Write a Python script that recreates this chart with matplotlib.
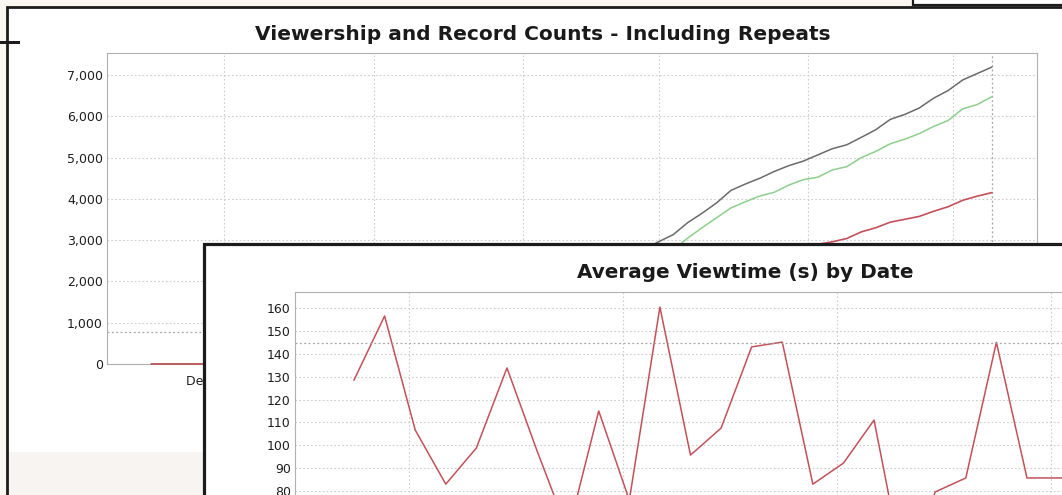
import matplotlib
matplotlib.use("Agg")
import matplotlib.pyplot as plt
import matplotlib.dates as mdates
from matplotlib.patches import Rectangle
from matplotlib.ticker import FuncFormatter
import pandas as pd

# ---------------- data: window 1 (cumulative counts) ----------------
count_dates = ["2010-11-16", "2010-12-15", "2011-01-01", "2011-01-15", "2011-02-01",
               "2011-02-15", "2011-03-01", "2011-03-04", "2011-03-07", "2011-03-10",
               "2011-03-13", "2011-03-16", "2011-03-19", "2011-03-22", "2011-03-25",
               "2011-03-28", "2011-03-31", "2011-04-03", "2011-04-06", "2011-04-09",
               "2011-04-12", "2011-04-15", "2011-04-18", "2011-04-21", "2011-04-24",
               "2011-04-27", "2011-04-30", "2011-05-03", "2011-05-06", "2011-05-09"]
total_views = [0, 0, 80, 600, 1350, 2100, 2960, 3130, 3420, 3650, 3900, 4205, 4360, 4500,
               4665, 4805, 4915, 5065, 5215, 5310, 5490, 5675, 5925, 6045, 6200, 6440,
               6625, 6880, 7035, 7190]
green_counts = [0, 0, 60, 500, 1150, 1800, 2480, 2760, 3045, 3300, 3540, 3780, 3930, 4070,
                4160, 4335, 4465, 4525, 4700, 4780, 5000, 5150, 5335, 5445, 5580, 5755,
                5900, 6180, 6285, 6470]
red_counts = [0, 0, 0, 350, 800, 1250, 1750, 1850, 1960, 2060, 2170, 2270, 2370, 2470,
              2570, 2660, 2760, 2900, 2960, 3040, 3200, 3300, 3435, 3505, 3575, 3700,
              3810, 3965, 4065, 4150]
month_ticks = ["2010-12-01", "2011-01-01", "2011-02-01", "2011-03-01", "2011-04-01", "2011-05-01"]
month_labels = ["Dec 1, 2010", "Jan 1, 2011", "Feb 1, 2011", "Mar 1, 2011", "Apr 1, 2011", "May 1, 2011"]
count_ticks = [0, 1000, 2000, 3000, 4000, 5000, 6000, 7000]
count_marker = 770

# ---------------- data: window 2 (average viewtime) ----------------
view_day = list(range(25))
avg_viewtime = [128.5, 156.5, 106.7, 83, 98.8, 133.8, 97, 62, 115, 76, 160.4, 95.7, 107.5,
                143, 145.1, 83, 92.2, 111, 43, 79.6, 85.7, 145, 85.7, 85.7, 85.7]
viewtime_ticks = [80, 90, 100, 110, 120, 130, 140, 150, 160]
week_grid = [1.8, 8.8, 15.8, 22.8]
viewtime_marker = 144.7

W, H = 1062, 495
fig = plt.figure(figsize=(W / 100, H / 100), dpi=100, facecolor="#faf6f2")


def rect_px(x0, y0, x1, y1):
    return [x0 / W, 1 - y1 / H, (x1 - x0) / W, (y1 - y0) / H]


def add_rect(x0, y0, x1, y1, fc, ec="none", lw=0, z=0.1):
    l, b, w, h = rect_px(x0, y0, x1, y1)
    r = Rectangle((l, b), w, h, transform=fig.transFigure, facecolor=fc,
                  edgecolor=ec, linewidth=lw, zorder=z)
    fig.add_artist(r)
    return r


BORDER = "#1c1c1c"
# background windows at the top
add_rect(913, -5, 1080, 5, "white", BORDER, 1.6, 0.05)

# window 1
add_rect(6.5, 6.5, 1100, 620, "white", BORDER, 2.0, 0.1)
add_rect(8.5, 452, 203, 500, "#f8f4f1", z=0.2)
add_rect(-5, 41.5, 20, 43.5, BORDER, z=0.3)

fig.text(543 / W, 1 - 35 / H, "Viewership and Record Counts - Including Repeats",
         ha="center", va="center", fontsize=14.5, fontweight="bold", color="#1a1a1a",
         zorder=0.5)

GRID = "#cdcdcd"
ax1 = fig.add_axes(rect_px(107, 53, 1037, 364))
ax1.set_zorder(1)
dates = pd.to_datetime(count_dates)
ax1.plot(dates, total_views, color="#6a6a6a", lw=1.1, zorder=3, clip_on=False)
ax1.plot(dates, green_counts, color="#8ccf8c", lw=1.1, zorder=3, clip_on=False)
ax1.plot(dates, red_counts, color="#c4505a", lw=1.2, zorder=3, clip_on=False)
d0 = mdates.date2num(pd.Timestamp("2010-12-01"))
ax1.set_xlim(d0 + (107 - 224) / 4.828, d0 + (1037 - 224) / 4.828)
ax1.set_ylim(0, 7533)
ax1.set_xticks(pd.to_datetime(month_ticks))
ax1.set_xticklabels(month_labels)
ax1.set_yticks(count_ticks)
ax1.yaxis.set_major_formatter(FuncFormatter(lambda v, p: f"{int(v):,}"))
ax1.grid(True, color=GRID, linestyle=(0, (1.5, 2)), lw=0.8)
ax1.axhline(count_marker, color="#a5a5a5", linestyle=(0, (1.5, 2)), lw=0.9)
ax1.axvline(dates[-1], color="#a5a5a5", linestyle=(0, (1.5, 2)), lw=0.9)
ax1.tick_params(length=0, labelsize=9, labelcolor="#1e1e1e")
ax1.tick_params(axis="y", pad=3)
ax1.tick_params(axis="x", pad=8)
for s in ax1.spines.values():
    s.set_color("#b0b0b0")
    s.set_linewidth(0.8)

# window 2 (front)
add_rect(203.5, 243.5, 1200, 700, "white", BORDER, 2.3, 2)
fig.text(745 / W, 1 - 273 / H, "Average Viewtime (s) by Date", ha="center", va="center",
         fontsize=14.4, fontweight="bold", color="#1a1a1a", zorder=4)

ax2 = fig.add_axes(rect_px(295, 292, 1100, 292 + (167 - 40) * 2.2875))
ax2.set_zorder(3)
ax2.plot(view_day, avg_viewtime, color="#c4505a", lw=1.1)
ax2.set_xlim((295 - 354) / 30.59, (1100 - 354) / 30.59)
ax2.set_ylim(40, 167)
ax2.set_xticks(week_grid)
ax2.tick_params(axis="x", labelbottom=False)
ax2.set_yticks(viewtime_ticks)
ax2.grid(True, color=GRID, linestyle=(0, (1.5, 2)), lw=0.8)
ax2.axhline(viewtime_marker, color="#a5a5a5", linestyle=(0, (1.5, 2)), lw=0.9)
ax2.tick_params(length=0, labelsize=9, labelcolor="#1e1e1e", pad=3)
for s in ax2.spines.values():
    s.set_color("#b0b0b0")
    s.set_linewidth(0.8)

fig.savefig("out.png", dpi=100, facecolor=fig.get_facecolor())
